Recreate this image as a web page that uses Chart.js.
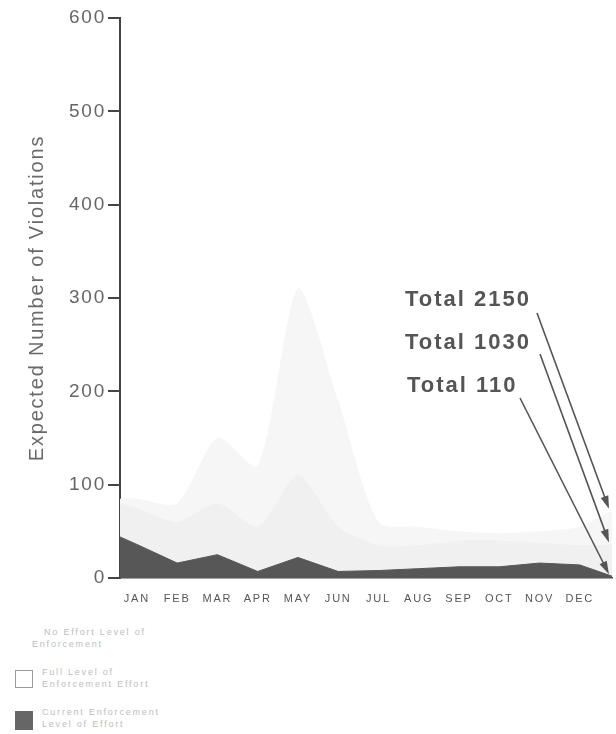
<!DOCTYPE html>
<html>
<head>
<meta charset="utf-8">
<script src="https://cdn.jsdelivr.net/npm/chart.js@4/dist/chart.umd.min.js"></script>
<style>
  html, body { margin: 0; padding: 0; background: #fff; width: 616px; height: 734px; overflow: hidden; font-family: "Liberation Sans", Arial, sans-serif; }
  #wrap { position: absolute; left: 0; top: 0; width: 616px; height: 608px; }
  .leg { position: absolute; font-size: 9px; line-height: 12px; color: #bdbdbd; letter-spacing: 1.8px; }
  .box { position: absolute; width: 16px; height: 16px; }
</style>
</head>
<body>
<div id="wrap"><canvas id="c"></canvas></div>
<div class="leg" style="left:44px;top:626px;">No Effort Level of<br><span style="margin-left:-12px">Enforcement</span></div>
<div class="box" style="left:15px;top:670px;border:1px solid #9a9a9a;background:#fff;"></div>
<div class="leg" style="left:42px;top:666px;">Full Level of<br>Enforcement Effort</div>
<div class="box" style="left:15px;top:711px;width:18px;height:19px;background:#666;"></div>
<div class="leg" style="left:42px;top:706px;">Current Enforcement<br>Level of Effort</div>
<script>
// ---- data ----
const months = ['JAN','FEB','MAR','APR','MAY','JUN','JUL','AUG','SEP','OCT','NOV','DEC'];
const noEffort   = [85, 80, 150, 120, 310, 190, 60, 55, 50, 48, 50, 55];
const fullEffort = [75, 60, 80, 55, 110, 55, 35, 35, 40, 40, 38, 35];
const current    = [36, 16, 25, 7, 22, 7, 8, 10, 12, 12, 16, 14];
// values where each curve meets the left and right edges of the plot
const noEffortEdges   = [85, 72];
const fullEffortEdges = [80, 36];
const currentEdges    = [44, 2];
const totals = [2150, 1030, 110];
const yTicks = [0, 100, 200, 300, 400, 500, 600];

const X_MIN = -0.42, X_MAX = 11.8;

function series(vals, edges) {
  return [{x: X_MIN, y: edges[0]}]
    .concat(vals.map((v, i) => ({x: i, y: v})))
    .concat([{x: X_MAX, y: edges[1]}]);
}

const annot = {
  id: 'annot',
  afterDatasetsDraw(chart) {
    const ctx = chart.ctx, xs = chart.scales.x, ys = chart.scales.y;
    const ends = [noEffortEdges[1], fullEffortEdges[1], currentEdges[1]];
    const labelPos = [[405, 300, 537, 313], [405, 343, 540, 354], [407, 386, 520, 398]];
    ctx.save();
    ctx.letterSpacing = '2px';
    ctx.font = 'bold 22px "Liberation Sans", Arial, sans-serif';
    ctx.fillStyle = '#555';
    ctx.strokeStyle = '#555';
    ctx.textBaseline = 'middle';
    ctx.textAlign = 'left';
    totals.forEach((t, i) => {
      const [tx, ty, sx, sy] = labelPos[i];
      ctx.fillText('Total ' + t, tx, ty);
      const ex = xs.getPixelForValue(X_MAX) - 3;
      const ey = ys.getPixelForValue(ends[i]) - 2;
      const ang = Math.atan2(ey - sy, ex - sx);
      ctx.lineWidth = 1.6;
      ctx.beginPath(); ctx.moveTo(sx, sy);
      ctx.lineTo(ex - Math.cos(ang) * 8, ey - Math.sin(ang) * 8); ctx.stroke();
      const L = 13, W = 4;
      ctx.beginPath();
      ctx.moveTo(ex, ey);
      ctx.lineTo(ex - L * Math.cos(ang) + W * Math.sin(ang), ey - L * Math.sin(ang) - W * Math.cos(ang));
      ctx.lineTo(ex - L * Math.cos(ang) - W * Math.sin(ang), ey - L * Math.sin(ang) + W * Math.cos(ang));
      ctx.closePath(); ctx.fill();
    });
    ctx.restore();
  },
  beforeDraw(chart) { chart.ctx.letterSpacing = '1.8px'; }
};

new Chart(document.getElementById('c'), {
  type: 'line',
  data: {
    datasets: [
      { label: 'Current Enforcement Level of Effort', data: series(current, currentEdges), order: 1,
        fill: 'origin', backgroundColor: '#575757', borderColor: '#575757', borderWidth: 1, pointRadius: 0, tension: 0 },
      { label: 'Full Level of Enforcement Effort', data: series(fullEffort, fullEffortEdges), order: 2,
        fill: 'origin', backgroundColor: '#f0f0f0', borderColor: '#f0f0f0', borderWidth: 0, pointRadius: 0, tension: 0.25 },
      { label: 'No Effort Level of Enforcement', data: series(noEffort, noEffortEdges), order: 3,
        fill: 'origin', backgroundColor: '#f6f6f6', borderColor: '#f6f6f6', borderWidth: 0, pointRadius: 0, tension: 0.25 }
    ]
  },
  options: {
    responsive: true, maintainAspectRatio: false, animation: false,
    layout: { padding: { top: 18, right: 4, left: 0, bottom: 0 } },
    plugins: { legend: { display: false }, tooltip: { enabled: false } },
    scales: {
      x: {
        type: 'linear', min: X_MIN, max: X_MAX,
        afterBuildTicks(s) { s.ticks = months.map((m, i) => ({value: i})); },
        afterFit(s) { s.height = 30; },
        ticks: { autoSkip: false, maxRotation: 0, padding: 6, color: '#555',
          font: { size: 11, family: '"Liberation Sans", Arial, sans-serif' },
          callback: (v) => months[v] },
        grid: { display: false },
        border: { display: true, color: '#444', width: 1.5 }
      },
      y: {
        min: 0, max: 600,
        afterBuildTicks(s) { s.ticks = yTicks.map(v => ({value: v})); },
        afterFit(s) { s.width = 120; },
        ticks: { padding: 2, color: '#666', font: { size: 19, family: '"Liberation Sans", Arial, sans-serif' } },
        grid: { drawOnChartArea: false, drawTicks: true, tickLength: 12, color: '#444', lineWidth: 2 },
        border: { display: true, color: '#444', width: 2 },
        title: { display: true, text: 'Expected Number of Violations', color: '#6a6a6a',
          font: { size: 20, family: '"Liberation Sans", Arial, sans-serif' }, padding: { top: 25, bottom: 0 } }
      }
    }
  },
  plugins: [annot]
});
</script>
</body>
</html>
